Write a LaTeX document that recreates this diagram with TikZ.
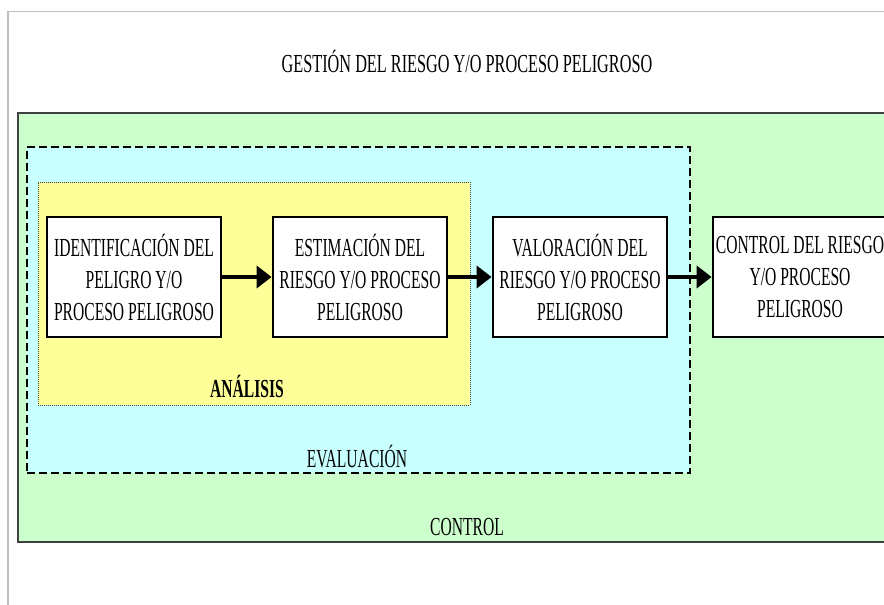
\documentclass[tikz,border=0pt]{standalone}
\usepackage{fontspec}
\setmainfont{Liberation Serif}
\newfontfamily\boxfont[FakeStretch=0.6]{Liberation Serif}
\newfontfamily\titlefont[FakeStretch=0.625]{Liberation Serif}
\usetikzlibrary{arrows.meta}
\definecolor{greenfill}{HTML}{CCFFCC}
\definecolor{cyanfill}{HTML}{C8FFFF}
\definecolor{yellowfill}{HTML}{FFFF99}
\definecolor{framegray}{HTML}{BFBFBF}
\definecolor{edgegray}{HTML}{404040}
\tikzset{
  region/.style={rectangle, inner sep=0pt, outer sep=0pt},
  stepbox/.style={rectangle, draw=black, line width=2.8pt, fill=white,
    minimum width=174pt, minimum height=120pt, inner sep=0pt,
    align=center, font=\boxfont\fontsize{26}{32}\selectfont},
  flow/.style={line width=4.5pt, -{Triangle[length=15pt,width=22pt]}},
  lbl/.style={anchor=base, inner sep=0pt, font=\boxfont\fontsize{26}{32}\selectfont}
}
\begin{document}
\begin{tikzpicture}[x=1pt,y=-1pt]
\useasboundingbox (0,0) rectangle (884,605);
\clip (0,0) rectangle (884,605);
\fill[white] (0,0) rectangle (884,605);
% page frame
\coordinate (ftl) at (8,11.5);
\coordinate (ftr) at (884,11.5);
\coordinate (fbl) at (8,605);
\draw[framegray, line width=1.5pt] (fbl) -- (ftl) -- (ftr);
% title
\node[anchor=base, inner sep=0pt, font=\titlefont\fontsize{26}{32}\selectfont] (title) at (467,72) {GESTIÓN DEL RIESGO Y/O PROCESO PELIGROSO};
% regions
\node[region, fill=greenfill, draw=edgegray, line width=2pt,
  minimum width=882pt, minimum height=429pt] (control) at (459,327.5) {};
\node[region, fill=cyanfill, draw=black, line width=2.5pt, dash pattern=on 8pt off 4pt,
  minimum width=663pt, minimum height=326pt] (evaluacion) at (358.5,310) {};
\node[region, fill=yellowfill, draw=edgegray, line width=1pt, dash pattern=on 1pt off 1pt,
  minimum width=432pt, minimum height=223pt] (analisis) at (254,293.5) {};
% boxes
\node[stepbox] (b1) at (134,277) {IDENTIFICACIÓN DEL\\PELIGRO Y/O\\PROCESO PELIGROSO};
\node[stepbox] (b2) at (360,277) {ESTIMACIÓN DEL\\RIESGO Y/O PROCESO\\PELIGROSO};
\node[stepbox] (b3) at (580,277) {VALORACIÓN DEL\\RIESGO Y/O PROCESO\\PELIGROSO};
\node[stepbox] (b4) at (800,277) {CONTROL DEL RIESGO\\Y/O PROCESO\\PELIGROSO};
% arrows
\draw[flow] (b1.east) -- (b2.west);
\draw[flow] (b2.east) -- (b3.west);
\draw[flow] (b3.east) -- (b4.west);
% labels
\node[lbl, font=\boxfont\bfseries\fontsize{26}{32}\selectfont] (lanalisis) at (247,397) {ANÁLISIS};
\node[lbl] (levaluacion) at (357,467) {EVALUACIÓN};
\node[lbl] (lcontrol) at (467,535) {CONTROL};
\end{tikzpicture}
\end{document}
